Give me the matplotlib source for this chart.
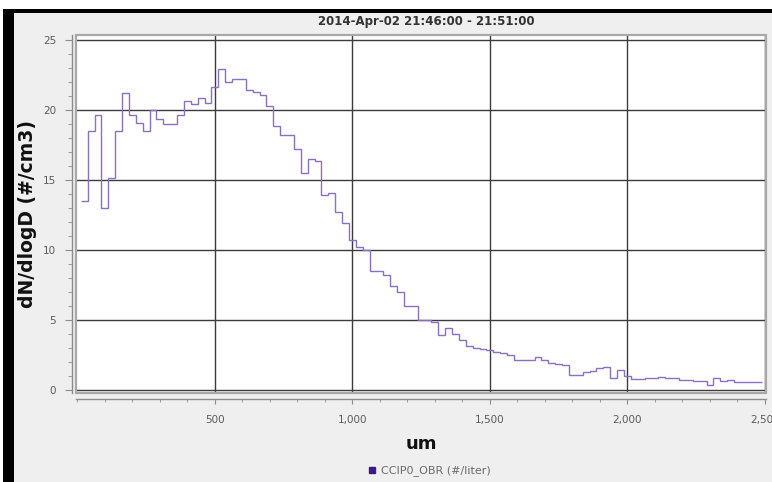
import numpy as np
import matplotlib
matplotlib.use("Agg")
import matplotlib.pyplot as plt
from matplotlib.patches import Rectangle
from matplotlib.lines import Line2D
from matplotlib.ticker import FixedLocator, MultipleLocator, FuncFormatter

# size distribution, one value per 25 um bin (centres 25 ... 2475 um)
bin_lo = 12.5
bin_width = 25.0
dndlogd = [
    13.45, 18.45, 19.6, 13.0, 15.1, 18.5, 21.2, 19.6, 19.05, 18.45,
    20.0, 19.3, 19.0, 19.0, 19.6, 20.6, 20.4, 20.8, 20.5, 21.6,
    22.9, 22.0, 22.2, 22.2, 21.4, 21.25, 21.05, 20.25, 18.8, 18.15,
    18.15, 17.15, 15.45, 16.5, 16.3, 13.9, 14.05, 12.7, 11.9, 10.7,
    10.2, 10.0, 8.45, 8.45, 8.2, 7.4, 7.0, 5.97, 5.97, 5.0,
    4.95, 4.8, 3.9, 4.4, 4.0, 3.57, 3.15, 3.0, 2.87, 2.8,
    2.67, 2.65, 2.5, 2.15, 2.15, 2.15, 2.3, 2.15, 1.9, 1.8,
    1.78, 1.07, 1.07, 1.24, 1.3, 1.55, 1.62, 0.83, 1.43, 1.0,
    0.76, 0.76, 0.8, 0.83, 0.88, 0.86, 0.86, 0.72, 0.71, 0.6,
    0.6, 0.36, 0.83, 0.6, 0.7, 0.52, 0.52, 0.52, 0.52,
]
x_ticks = [500, 1000, 1500, 2000, 2500]
y_ticks = [0, 5, 10, 15, 20, 25]

title = "2014-Apr-02 21:46:00 - 21:51:00"
series_name = "CCIP0_OBR (#/liter)"
x_label = "um"
y_label = "dN/dlogD (#/cm3)"

W, H = 772, 482
fig = plt.figure(figsize=(W / 100, H / 100), dpi=100, facecolor="#efefef")


def px_rect(x0, y0, x1, y1, color):
    # rectangle in pixel coords (origin top-left)
    fig.add_artist(Rectangle((x0 / W, 1 - y1 / H), (x1 - x0) / W, (y1 - y0) / H,
                             transform=fig.transFigure, color=color, lw=0, zorder=-5))


# window frame: white strip at top, black border lines
px_rect(0, 0, W, 9, "white")
px_rect(0, 9, 3, H, "white")
px_rect(3, 9, W, 13, "black")
px_rect(3, 9, 14, H, "black")

ax = fig.add_axes([76 / W, 1 - 392.5 / H, 689.5 / W, 357.2 / H])
ax.set_facecolor("white")

edges = bin_lo + bin_width * np.arange(len(dndlogd) + 1)
ax.stairs(dndlogd, edges, baseline=None, color="#8a70c4", lw=1.0, zorder=3)

ax.set_xlim(-5, 2502)
ax.set_ylim(-0.2, 25.3)

ax.xaxis.set_major_locator(FixedLocator(x_ticks))
ax.xaxis.set_minor_locator(MultipleLocator(100))
ax.xaxis.set_major_formatter(FuncFormatter(lambda v, p: f"{v:,.0f}"))
ax.yaxis.set_major_locator(FixedLocator(y_ticks))
ax.yaxis.set_minor_locator(MultipleLocator(1))

ax.grid(which="major", color="#3c3c3c", lw=1.0, zorder=1)

ax.spines["top"].set_visible(False)
ax.spines["right"].set_visible(False)
ax.spines["left"].set_position(("outward", 3))
ax.spines["bottom"].set_position(("outward", 4.7))
for s in ("left", "bottom"):
    ax.spines[s].set_color("#8c8c8c")
    ax.spines[s].set_linewidth(1.0)

# plot outline
ax.add_patch(Rectangle((0, 0), 1, 1, transform=ax.transAxes, fill=False,
                       edgecolor="#a8a8a8", lw=1.6, clip_on=False, zorder=4))

ax.tick_params(which="both", colors="#8c8c8c", labelcolor="#5a5a5a", labelsize=7.5)
ax.tick_params(axis="y", which="major", length=4.7, pad=6.5)
ax.tick_params(axis="y", which="minor", length=2.9)
ax.tick_params(axis="x", which="major", length=3.5, pad=8)
ax.tick_params(axis="x", which="minor", length=2.5)

fig.text(426 / W, 1 - 22 / H, title, ha="center", va="center",
         fontsize=8.5, fontweight="bold", color="#333333")
fig.text(28 / W, 1 - 213.5 / H, y_label, ha="center", va="center", rotation=90,
         fontsize=13.5, fontweight="bold", color="#111111")
fig.text(421 / W, 1 - 444 / H, x_label, ha="center", va="center",
         fontsize=13, fontweight="bold", color="#111111")

handle = Line2D([], [], marker="s", linestyle="none", color="#3f1a86", markersize=4.5)
fig.legend([handle], [series_name], loc="center", bbox_to_anchor=(429 / W, 1 - 471 / H),
           frameon=False, handlelength=0.8, handletextpad=0.4, fontsize=8,
           labelcolor="#6a6a6a")

fig.savefig("out.png", dpi=100, facecolor=fig.get_facecolor())
